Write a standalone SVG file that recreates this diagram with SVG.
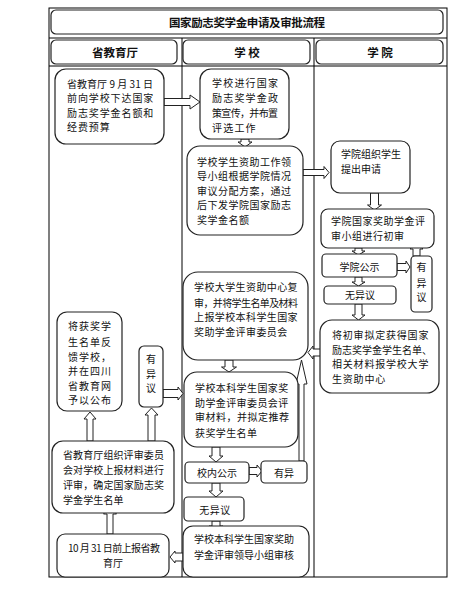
<svg xmlns="http://www.w3.org/2000/svg" width="471" height="592" viewBox="0 0 471 592">
<style>
.frame{fill:none;stroke:#000;stroke-width:1}
.box{fill:#fff;stroke:#222;stroke-width:1.2}
.arr{fill:#fff;stroke:#222;stroke-width:1;stroke-linejoin:miter}
text{font-family:"Noto Sans CJK SC","Liberation Sans",sans-serif;font-size:10px;fill:#111}
.t{font-size:11.5px;font-weight:bold}
.h{font-size:11.5px;font-weight:bold;text-anchor:middle}
.c{text-anchor:middle}
</style>
<rect width="471" height="592" fill="#fff"/>
<g id="frame">
<rect class="frame" x="49" y="8" width="398" height="569"/>
<line class="frame" x1="49" y1="38" x2="447" y2="38"/>
<line class="frame" x1="49" y1="66" x2="447" y2="66"/>
<line class="frame" x1="182" y1="38" x2="182" y2="577"/>
<line class="frame" x1="314" y1="38" x2="314" y2="577"/>
</g>
<g id="title">
<rect class="box" x="51" y="10" width="392" height="24" rx="5"/>
<text class="t" x="247" y="27" text-anchor="middle" textLength="156">国家励志奖学金申请及审批流程</text>
</g>
<g id="hdr-province"><rect class="box" x="51" y="40" width="126" height="24" rx="5"/><text class="h" x="115" y="57">省教育厅</text></g>
<g id="hdr-school"><rect class="box" x="183" y="40" width="127" height="24" rx="5"/><text class="h" x="247" y="57">学 校</text></g>
<g id="hdr-college"><rect class="box" x="316" y="40" width="127" height="24" rx="5"/><text class="h" x="380" y="57">学 院</text></g>

<g id="connectors">
<polygon class="arr" points="164,98.5 190,98.5 190,95 200,102 190,109 190,105.5 164,105.5"/>
<polygon class="arr" points="241,139 249,139 249,142 252,142 245,147 238,142 241,142"/>
<polygon class="arr" points="303,169.5 324,169.5 324,166.5 329,172.5 324,178.5 324,175.5 303,175.5"/>
<polygon class="arr" points="370.5,193 378.5,193 378.5,205 381.5,205 374.5,210 367.5,205 370.5,205"/>
<polygon class="arr" points="355,248 362,248 362,251 365,251 358.5,255 352,251 355,251"/>
<polygon class="arr" points="397,263.5 406,263.5 406,261 410,267 406,273 406,270.5 397,270.5"/>
<polygon class="arr" points="413,256 420,256 420,249 423,249 416.5,243 410,249 413,249"/>
<polygon class="arr" points="355,277 362,277 362,282 365,282 358.5,286 352,282 355,282"/>
<polygon class="arr" points="355,304 362,304 362,315 365,315 358.5,320 352,315 355,315"/>
<polygon class="arr" points="322,349 313,349 313,346 308,352.5 313,359 313,356 322,356"/>
<polygon class="arr" points="225,360 233,360 233,367 236.5,367 229,372 221.5,367 225,367"/>
<polygon class="arr" points="299,461 304,461 304,384 307,384 301.5,360 296,384 299,384"/>
<polygon class="arr" points="212,447 220,447 220,456 223,456 216,462 209,456 212,456"/>
<polygon class="arr" points="249,467.5 257,467.5 257,465 262,471 257,477 257,474.5 249,474.5"/>
<polygon class="arr" points="212,483 220,483 220,491 223,491 216,497 209,491 212,491"/>
<polygon class="arr" points="212,521 220,521 220,526 223,526 216,531 209,526 212,526"/>
<polygon class="arr" points="183,553 175,553 175,551 170,557 175,563 175,561 183,561"/>
<polygon class="arr" points="107,534 113,534 113,514 116.5,514 110,507 103.5,514 107,514"/>
<polygon class="arr" points="87,441 93,441 93,419 96,419 90,412 84,419 87,419"/>
<polygon class="arr" points="148,441 155,441 155,415 158,415 151.5,408 145,415 148,415"/>
<polygon class="arr" points="163,389.5 178,389.5 178,387 183,393.5 178,400 178,397.5 163,397.5"/>
</g>

<g id="n-province-notice">
<rect class="box" x="55" y="69" width="109" height="75" rx="11"/>
<text x="67" y="87.5" textLength="86">省教育厅 9 月 31 日</text>
<text x="67" y="102" letter-spacing="0.9">前向学校下达国家</text>
<text x="67" y="116.5" letter-spacing="0.9">励志奖学金名额和</text>
<text x="67" y="131" letter-spacing="0.9">经费预算</text>
</g>
<g id="n-school-publicize">
<rect class="box" x="200" y="69" width="89" height="70" rx="11"/>
<text x="212" y="86.5" letter-spacing="1.2">学校进行国家</text>
<text x="212" y="101.5" letter-spacing="1.2">励志奖学金政</text>
<text x="212" y="116.5" textLength="66">策宣传，并布置</text>
<text x="212" y="131.5" letter-spacing="1.2">评选工作</text>
</g>
<g id="n-school-allocate">
<rect class="box" x="187" y="146" width="116" height="89" rx="13"/>
<text x="197" y="165.5" letter-spacing="0.5">学校学生资助工作领</text>
<text x="197" y="180" letter-spacing="0.5">导小组根据学院情况</text>
<text x="197" y="194.5" textLength="94">审议分配方案，通过</text>
<text x="197" y="209" letter-spacing="0.5">后下发学院国家励志</text>
<text x="197" y="223.5" letter-spacing="0.5">奖学金名额</text>
</g>
<g id="n-college-apply">
<rect class="box" x="331" y="141" width="79" height="52" rx="9"/>
<text x="341" y="157.5">学院组织学生</text>
<text x="341" y="172.5">提出申请</text>
</g>
<g id="n-college-review">
<rect class="box" x="321" y="209" width="113" height="39" rx="7"/>
<text x="331" y="224.5" letter-spacing="0.5">学院国家奖助学金评</text>
<text x="331" y="239.5" letter-spacing="0.5">审小组进行初审</text>
</g>
<g id="n-college-publicity">
<rect class="box" x="322" y="254" width="75" height="23" rx="4"/>
<text class="c" x="359.5" y="270.5">学院公示</text>
</g>
<g id="n-college-objection">
<rect class="box" x="411" y="256" width="21" height="56" rx="4"/>
<text class="c" x="421.5" y="270.5">有</text>
<text class="c" x="421.5" y="286.5">异</text>
<text class="c" x="421.5" y="300.5">议</text>
</g>
<g id="n-college-noobjection">
<rect class="box" x="324" y="286" width="72" height="18" rx="4"/>
<text class="c" x="360" y="299">无异议</text>
</g>
<g id="n-college-submit">
<rect class="box" x="320" y="320" width="119" height="73" rx="12"/>
<text x="332" y="338.5" letter-spacing="0.8">将初审拟定获得国家</text>
<text x="332" y="353.5" textLength="100">励志奖学金学生名单、</text>
<text x="332" y="367.5" letter-spacing="0.8">相关材料报学校大学</text>
<text x="332" y="382.5" letter-spacing="0.8">生资助中心</text>
</g>
<g id="n-school-center">
<rect class="box" x="183" y="272" width="125" height="88" rx="15"/>
<text x="194" y="290.5" letter-spacing="0.4">学校大学生资助中心复</text>
<text x="194" y="306.5" textLength="104">审，并将学生名单及材料</text>
<text x="194" y="320.5" letter-spacing="0.4">上报学校本科学生国家</text>
<text x="194" y="335.5" letter-spacing="0.4">奖助学金评审委员会</text>
</g>
<g id="n-school-committee">
<rect class="box" x="184" y="372" width="114" height="75" rx="13"/>
<text x="195" y="391.5" letter-spacing="0.4">学校本科学生国家奖</text>
<text x="195" y="406.5" letter-spacing="0.4">助学金评审委员会评</text>
<text x="195" y="420.5" textLength="94">审材料，并拟定推荐</text>
<text x="195" y="436.5" letter-spacing="0.4">获奖学生名单</text>
</g>
<g id="n-school-publicity">
<rect class="box" x="185" y="462" width="64" height="21" rx="4"/>
<text class="c" x="217" y="476.5">校内公示</text>
</g>
<g id="n-school-objection">
<rect class="box" x="261" y="461" width="46" height="22" rx="4"/>
<text class="c" x="284" y="476.5">有异</text>
</g>
<g id="n-school-noobjection">
<rect class="box" x="184" y="497" width="60" height="24" rx="4"/>
<text class="c" x="215" y="513.5" letter-spacing="0.5">无异议</text>
</g>
<g id="n-school-leader">
<rect class="box" x="183" y="526" width="126" height="51" rx="10"/>
<text x="194" y="542.5">学校本科学生国家奖助</text>
<text x="194" y="558.5">学金评审领导小组审核</text>
</g>
<g id="n-province-report">
<rect class="box" x="57" y="534" width="112" height="43" rx="8"/>
<text class="c" x="114" y="551.5" textLength="92">10 月 31 日前上报省教</text>
<text class="c" x="113" y="566.5">育厅</text>
</g>
<g id="n-province-review">
<rect class="box" x="52" y="441" width="122" height="72" rx="11"/>
<text x="63" y="458.5" letter-spacing="0.1">省教育厅组织评审委员</text>
<text x="63" y="473.5" letter-spacing="0.1">会对学校上报材料进行</text>
<text x="63" y="488.5" textLength="101">评审，确定国家励志奖</text>
<text x="63" y="503.5" letter-spacing="0.1">学金学生名单</text>
</g>
<g id="n-province-publish">
<rect class="box" x="57" y="312" width="65" height="99" rx="10"/>
<text x="68" y="329.5" letter-spacing="1">将获奖学</text>
<text x="68" y="345.5" letter-spacing="1">生名单反</text>
<text x="68" y="360.5" letter-spacing="1">馈学校，</text>
<text x="68" y="374.5" letter-spacing="1">并在四川</text>
<text x="68" y="389.5" letter-spacing="1">省教育网</text>
<text x="68" y="403.5" letter-spacing="1">予以公布</text>
</g>
<g id="n-province-objection">
<rect class="box" x="139" y="346" width="24" height="61" rx="5"/>
<text class="c" x="151" y="362.5">有</text>
<text class="c" x="151" y="377.5">异</text>
<text class="c" x="151" y="391.5">议</text>
</g>
</svg>
